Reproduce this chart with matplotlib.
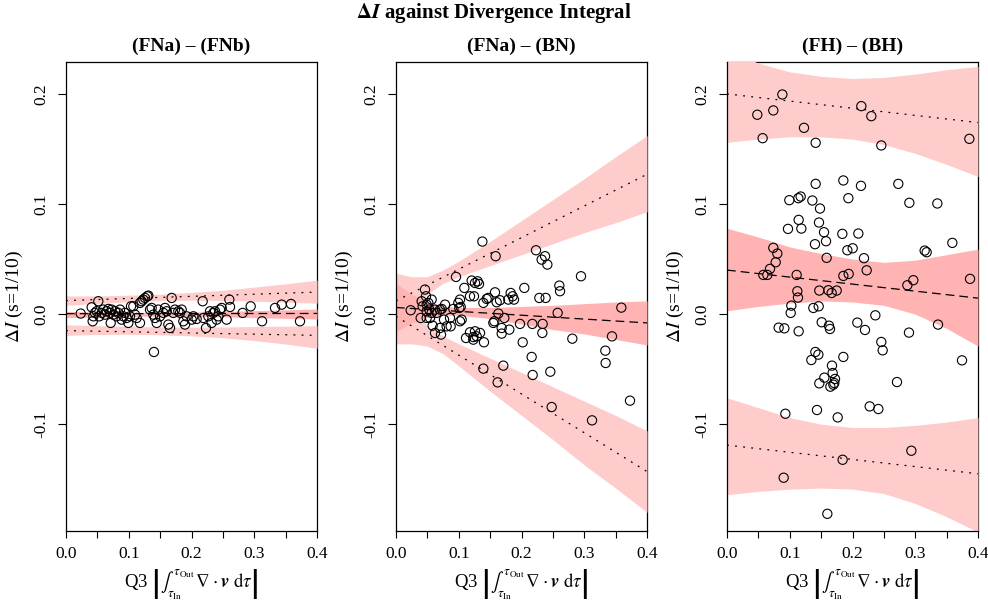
import numpy as np
import matplotlib.pyplot as plt

plt.rcParams['font.family'] = 'serif'
plt.rcParams['font.serif'] = ['Liberation Serif', 'DejaVu Serif']
plt.rcParams['mathtext.fontset'] = 'stix'

# colours of the confidence bands
LIGHT = '#ffcccc'
DARK = '#ffb3b3'

TITLE = r"$\mathbf{\Delta}\mathbfit{I}$ against Divergence Integral"
PANEL_TITLES = ["(FNa) \u2013 (FNb)", "(FNa) \u2013 (BN)", "(FH) \u2013 (BH)"]
YLABEL = r"$\Delta I$ (s=1/10)"
XLABEL = r"Q3 $\left|\int_{\tau_{\mathrm{In}}}^{\tau_{\mathrm{Out}}}\,\nabla\cdot\mathbfit{v}\ \mathrm{d}\tau\right|$"

# ---- panel 1 : (FNa) - (FNb) ----
p1_x = [0.0234, 0.0409, 0.0436, 0.0425, 0.0462, 0.0489, 0.0515, 0.0531, 0.0568, 0.0595,
        0.0622, 0.0648, 0.0675, 0.0701, 0.0728, 0.0754, 0.0712, 0.0781, 0.0807, 0.0834,
        0.0861, 0.0887, 0.0914, 0.0940, 0.0967, 0.0993, 0.1020, 0.1036, 0.1073, 0.1100,
        0.1126, 0.1179, 0.1179, 0.1206, 0.1232, 0.1259, 0.1296, 0.1312, 0.1339, 0.1365,
        0.1392, 0.1418, 0.1445, 0.1471, 0.1498, 0.1551, 0.1578, 0.1604, 0.1631, 0.1657,
        0.1684, 0.1710, 0.1737, 0.1790, 0.1817, 0.1843, 0.1870, 0.1896, 0.1923, 0.2003,
        0.2029, 0.2082, 0.2178, 0.2189, 0.2231, 0.2268, 0.2295, 0.2321, 0.2348, 0.2375,
        0.2401, 0.2428, 0.2454, 0.2481, 0.2560, 0.2603, 0.2614, 0.2815, 0.2943, 0.3124,
        0.3331, 0.3437, 0.3586, 0.3729, 0.1402]
p1_y = [0.0005, 0.0062, -0.0020, -0.0065, 0.0011, 0.0026, 0.0117, -0.0020, 0.0011, 0.0041,
        -0.0005, 0.0026, 0.0047, 0.0011, 0.0041, -0.0005, -0.0080, 0.0026, -0.0020, 0.0011,
        0.0041, -0.0050, -0.0020, 0.0011, -0.0035, -0.0080, -0.0020, 0.0071, 0.0071, -0.0005,
        -0.0035, -0.0080, 0.0102, 0.0117, 0.0132, 0.0147, 0.0162, 0.0168, 0.0041, 0.0056,
        -0.0005, -0.0035, -0.0080, 0.0041, -0.0020, 0.0011, 0.0056, 0.0026, -0.0095, -0.0126,
        0.0147, 0.0011, 0.0041, 0.0026, 0.0011, 0.0041, -0.0065, -0.0095, -0.0020, -0.0050,
        -0.0020, -0.0044, 0.0117, -0.0035, -0.0126, -0.0020, 0.0026, -0.0080, 0.0011, 0.0026,
        -0.0050, -0.0020, 0.0041, 0.0056, -0.0050, 0.0132, 0.0065, 0.0011, 0.0071, -0.0065,
        0.0056, 0.0086, 0.0092, -0.0065, -0.0344]
p1_bx = [0.0, 0.05, 0.1, 0.15, 0.2, 0.25, 0.3, 0.35, 0.4]
p1_up_hi = [0.0165, 0.0165, 0.0172, 0.0182, 0.0197, 0.0217, 0.0245, 0.0275, 0.0308]
p1_up_lo = [0.0080, 0.0098, 0.0112, 0.0122, 0.0127, 0.0125, 0.0117, 0.0108, 0.0100]
p1_mid_hi = [0.0025, 0.0018, 0.0015, 0.0015, 0.0018, 0.0024, 0.0031, 0.0039, 0.0047]
p1_mid_lo = [-0.0032, -0.0025, -0.0020, -0.0018, -0.0020, -0.0025, -0.0032, -0.0038, -0.0044]
p1_low_hi = [-0.0097, -0.0105, -0.0112, -0.0117, -0.0118, -0.0117, -0.0113, -0.0109, -0.0105]
p1_low_lo = [-0.0193, -0.0185, -0.0183, -0.0188, -0.0198, -0.0215, -0.0240, -0.0272, -0.0310]
p1_up_line = [0.0123, 0.0200]
p1_mid_line = [0.0004, 0.0006]
p1_low_line = [-0.0150, -0.0193]

# ---- panel 2 : (FNa) - (BN) ----
p2_x = [0.0234, 0.0393, 0.0409, 0.0425, 0.0462, 0.0478, 0.0489, 0.0515, 0.0542, 0.0568,
        0.0584, 0.0622, 0.0622, 0.0648, 0.0701, 0.0717, 0.0728, 0.0765, 0.0781, 0.0807,
        0.0861, 0.0871, 0.0914, 0.0956, 0.0993, 0.1009, 0.1020, 0.1031, 0.1020, 0.1046,
        0.1089, 0.1116, 0.1179, 0.1179, 0.1206, 0.1232, 0.1243, 0.1259, 0.1286, 0.1301,
        0.1323, 0.1339, 0.1376, 0.1392, 0.1392, 0.1402, 0.1445, 0.1471, 0.1551, 0.1567,
        0.1578, 0.1588, 0.1604, 0.1620, 0.1631, 0.1657, 0.1684, 0.1684, 0.1710, 0.1726,
        0.1790, 0.1806, 0.1827, 0.1859, 0.1880, 0.1976, 0.2019, 0.2045, 0.2162, 0.2173,
        0.2178, 0.2231, 0.2284, 0.2321, 0.2332, 0.2337, 0.2375, 0.2385, 0.2412, 0.2459,
        0.2481, 0.2576, 0.2603, 0.2614, 0.2810, 0.2948, 0.3124, 0.3336, 0.3341, 0.3442,
        0.3591, 0.3729, 0.0489, 0.0531, 0.0568, 0.0489, 0.0701, 0.1259, 0.1232]
p2_y = [0.0035, -0.0035, 0.0117, 0.0071, 0.0223, 0.0162, 0.0026, 0.0102, -0.0035, 0.0132,
        -0.0105, 0.0041, -0.0171, 0.0011, 0.0041, -0.0186, 0.0047, -0.0050, 0.0086, -0.0111,
        -0.0035, -0.0111, 0.0047, 0.0338, 0.0102, 0.0056, 0.0132, 0.0065, -0.0065, -0.0050,
        0.0238, -0.0217, 0.0162, -0.0165, 0.0305, -0.0232, 0.0162, 0.0283, -0.0202, 0.0298,
        0.0274, -0.0171, 0.0659, 0.0102, -0.0495, -0.0256, 0.0138, 0.0147, -0.0080, -0.0065,
        0.0198, 0.0526, 0.0108, -0.0620, 0.0005, 0.0126, -0.0126, -0.0177, -0.0468, -0.0035,
        0.0132, -0.0141, 0.0192, 0.0162, 0.0132, -0.0089, -0.0256, 0.0238, -0.0389, -0.0089,
        -0.0553, 0.0580, 0.0147, 0.0495, -0.0171, -0.0089, 0.0526, 0.0147, 0.0450, -0.0523,
        -0.0844, 0.0011, 0.0259, 0.0208, -0.0223, 0.0344, -0.0965, -0.0332, -0.0444, -0.0202,
        0.0059, -0.0786, 0.0086, 0.0041, 0.0011, -0.0035, -0.0126, -0.0156, -0.0208]
p2_bx = [0.0, 0.025, 0.05, 0.075, 0.1, 0.15, 0.2, 0.25, 0.3, 0.35, 0.4]
p2_up_hi = [0.037, 0.034, 0.034, 0.040, 0.048, 0.066, 0.085, 0.104, 0.123, 0.143, 0.162]
p2_up_lo = [-0.013, 0.004, 0.018, 0.028, 0.034, 0.044, 0.054, 0.064, 0.074, 0.083, 0.093]
p2_mid_hi = [0.028, 0.018, 0.011, 0.007, 0.006, 0.006, 0.007, 0.008, 0.0095, 0.011, 0.012]
p2_mid_lo = [-0.016, -0.008, -0.003, -0.001, -0.001, -0.004, -0.009, -0.014, -0.018, -0.023, -0.028]
p2_low_hi = [0.023, 0.005, -0.011, -0.020, -0.027, -0.040, -0.053, -0.066, -0.079, -0.092, -0.106]
p2_low_lo = [-0.027, -0.027, -0.029, -0.036, -0.047, -0.070, -0.092, -0.114, -0.137, -0.158, -0.180]
p2_up_line = [0.012, 0.127]
p2_mid_line = [0.006, -0.008]
p2_low_line = [-0.002, -0.143]

# ---- panel 3 : (FH) - (BH) ----
p3_x = [0.0483, 0.0568, 0.0738, 0.0882, 0.1227, 0.1413, 0.2141, 0.2300, 0.2459, 0.3862,
        0.1413, 0.1854, 0.2135, 0.2730, 0.0993, 0.1137, 0.1174, 0.1360, 0.1482, 0.1934,
        0.2906, 0.3352, 0.1142, 0.0972, 0.1185, 0.1466, 0.1546, 0.1578, 0.1838, 0.2093,
        0.1402, 0.1918, 0.2003, 0.0738, 0.0802, 0.0776, 0.0685, 0.0579, 0.0643, 0.1588,
        0.2183, 0.2226, 0.1110, 0.1854, 0.1939, 0.3150, 0.3182, 0.3591, 0.2969, 0.2874,
        0.3873, 0.1121, 0.1131, 0.1471, 0.1615, 0.1668, 0.1748, 0.1025, 0.1376, 0.1461,
        0.1015, 0.0823, 0.0914, 0.1142, 0.1509, 0.1625, 0.1641, 0.2077, 0.2199, 0.2364,
        0.3363, 0.2900, 0.2459, 0.2481, 0.1408, 0.1456, 0.1344, 0.1854, 0.3745, 0.1673,
        0.1684, 0.1551, 0.1721, 0.1471, 0.1695, 0.1647, 0.1710, 0.2709, 0.0930, 0.1434,
        0.1764, 0.2274, 0.2412, 0.2938, 0.1843, 0.0903, 0.1599]
p3_y = [0.1811, 0.1598, 0.1850, 0.1995, 0.1692, 0.1556, 0.1889, 0.1798, 0.1532, 0.1592,
        0.1183, 0.1214, 0.1165, 0.1183, 0.1035, 0.1053, 0.1068, 0.1032, 0.0959, 0.1053,
        0.1011, 0.1005, 0.0856, 0.0774, 0.0777, 0.0832, 0.0744, 0.0662, 0.0729, 0.0732,
        0.0635, 0.0580, 0.0598, 0.0602, 0.0550, 0.0471, 0.0411, 0.0356, 0.0356, 0.0511,
        0.0508, 0.0398, 0.0356, 0.0347, 0.0365, 0.0577, 0.0562, 0.0647, 0.0308, 0.0262,
        0.0320, 0.0208, 0.0150, 0.0214, 0.0217, 0.0192, 0.0214, 0.0077, 0.0056, 0.0071,
        0.0011, -0.0123, -0.0129, -0.0156, -0.0074, -0.0105, -0.0135, -0.0077, -0.0144, -0.0011,
        -0.0095, -0.0168, -0.0253, -0.0329, -0.0344, -0.0368, -0.0417, -0.0389, -0.0420, -0.0468,
        -0.0535, -0.0577, -0.0589, -0.0629, -0.0641, -0.0659, -0.0626, -0.0617, -0.0905, -0.0871,
        -0.0938, -0.0838, -0.0862, -0.1241, -0.1323, -0.1486, -0.1814]
p3_bx = [0.0, 0.05, 0.1, 0.15, 0.2, 0.25, 0.3, 0.35, 0.4]
p3_up_hi = [0.240, 0.228, 0.220, 0.216, 0.214, 0.215, 0.218, 0.222, 0.225]
p3_up_lo = [0.156, 0.159, 0.161, 0.161, 0.159, 0.154, 0.146, 0.136, 0.125]
p3_mid_hi = [0.078, 0.070, 0.061, 0.055, 0.050, 0.047, 0.049, 0.054, 0.059]
p3_mid_lo = [0.003, 0.007, 0.010, 0.012, 0.011, 0.008, 0.000, -0.013, -0.029]
p3_low_hi = [-0.076, -0.085, -0.094, -0.100, -0.103, -0.103, -0.101, -0.098, -0.094]
p3_low_lo = [-0.164, -0.161, -0.159, -0.158, -0.159, -0.163, -0.172, -0.184, -0.198]
p3_up_line = [0.200, 0.174]
p3_mid_line = [0.040, 0.0145]
p3_low_line = [-0.119, -0.145]

line_x = [0.0, 0.4]

panels = [
    (p1_x, p1_y, p1_bx, p1_up_lo, p1_up_hi, p1_mid_lo, p1_mid_hi, p1_low_lo, p1_low_hi,
     p1_up_line, p1_mid_line, p1_low_line),
    (p2_x, p2_y, p2_bx, p2_up_lo, p2_up_hi, p2_mid_lo, p2_mid_hi, p2_low_lo, p2_low_hi,
     p2_up_line, p2_mid_line, p2_low_line),
    (p3_x, p3_y, p3_bx, p3_up_lo, p3_up_hi, p3_mid_lo, p3_mid_hi, p3_low_lo, p3_low_hi,
     p3_up_line, p3_mid_line, p3_low_line),
]

fig = plt.figure(figsize=(9.88, 6.14), dpi=100)
fig.text(0.5, 0.979, TITLE, ha='center', va='center', fontsize=15, fontweight='bold')

lefts = [66, 396, 727]
xt = np.arange(0, 0.401, 0.05)
xt_labels = ['0.0', '', '0.1', '', '0.2', '', '0.3', '', '0.4']

for i, (px, py, bx, ul, uh, ml, mh, ll, lh, uline, mline, lline) in enumerate(panels):
    ax = fig.add_axes([lefts[i] / 988, 83 / 614, 251 / 988, 469 / 614])

    # bands
    ax.fill_between(bx, ul, uh, color=LIGHT, lw=0, zorder=1)
    ax.fill_between(bx, ll, lh, color=LIGHT, lw=0, zorder=1)
    ax.fill_between(bx, ml, mh, color=DARK, lw=0, zorder=1.1)

    # fitted lines
    ax.plot(line_x, uline, color='black', lw=0.9, ls=(0, (1.5, 5)), zorder=2)
    ax.plot(line_x, lline, color='black', lw=0.9, ls=(0, (1.5, 5)), zorder=2)
    ax.plot(line_x, mline, color='black', lw=0.9, ls=(0, (7, 4)), zorder=2)

    ax.scatter(px, py, s=44, facecolors='none', edgecolors='black', linewidths=0.8, zorder=3)

    ax.set_xlim(0, 0.4)
    ax.set_ylim(-0.197, 0.229)
    ax.set_xticks(xt, labels=xt_labels)
    ax.set_yticks([-0.1, 0.0, 0.1, 0.2], labels=['-0.1', '0.0', '0.1', '0.2'])
    ax.tick_params(direction='out', length=5, width=0.8, labelsize=12.5, pad=6)
    ax.tick_params(axis='y', length=6)
    for lab in ax.get_yticklabels():
        lab.set_rotation(90)
        lab.set_va('center')

    for side in ['top', 'right', 'left', 'bottom']:
        ax.spines[side].set_linewidth(0.9)
    ax.spines['top'].set_zorder(0.5)
    ax.spines['right'].set_zorder(0.5)

    ax.set_title(PANEL_TITLES[i], fontsize=14, fontweight='bold', pad=8)
    ax.set_ylabel(YLABEL, fontsize=14)
    ax.yaxis.set_label_coords(-0.165, 0.5)
    ax.set_xlabel(XLABEL, fontsize=13.5)
    ax.xaxis.set_label_coords(0.5, -0.078)

fig.savefig('out.png', dpi=100)
